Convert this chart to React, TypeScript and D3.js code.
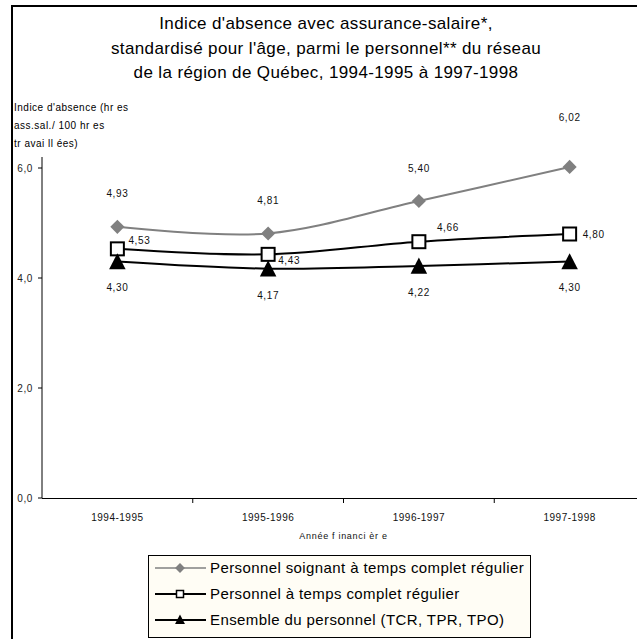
import React from "react";
import * as d3 from "d3";

const categories = ["1994-1995", "1995-1996", "1996-1997", "1997-1998"];
const soignantTCR = [4.93, 4.81, 5.4, 6.02];
const personnelTCR = [4.53, 4.43, 4.66, 4.8];
const ensemble = [4.3, 4.17, 4.22, 4.3];
const yTicks = [0, 2, 4, 6];
const seriesNames = [
  "Personnel soignant à temps complet régulier",
  "Personnel à temps complet régulier",
  "Ensemble du personnel (TCR, TPR, TPO)",
];
const titleLines = [
  "Indice d'absence avec assurance-salaire*,",
  "standardisé pour l'âge, parmi le personnel** du réseau",
  "de la région de Québec, 1994-1995 à 1997-1998",
];
const yTitleLines = ["Indice d'absence (hr es", "ass.sal./ 100 hr es", "tr avai ll ées)"];
const xTitle = "Année f inanci èr e";

const W = 637;
const H = 639;
const FONT = "'Liberation Sans', Arial, sans-serif";

export default function App() {
  const plotLeft = 42;
  const plotRight = 645;
  const y = d3.scaleLinear().domain([0, 6.2]).range([498, 157]);
  const xBand = d3.scaleBand().domain(categories).range([plotLeft, plotRight]);
  const xc = (c: string) => (xBand(c) as number) + xBand.bandwidth() / 2;
  const line = d3
    .line<[number, number]>()
    .x((d) => d[0])
    .y((d) => d[1])
    .curve(d3.curveCatmullRom.alpha(0));
  const pts = (vals: number[]) => vals.map((v, i) => [xc(categories[i]), y(v)] as [number, number]);
  const fmt = (v: number) => v.toFixed(2).replace(".", ",");
  const fmtTick = (v: number) => v.toFixed(1).replace(".", ",");

  const diamond = d3.symbol().type(d3.symbolSquare).size(100)();
  const tri = (s: number) => `M0,${-s * 0.62}L${s * 0.55},${s * 0.45}L${-s * 0.55},${s * 0.45}Z`;

  const lblStyle = { fontFamily: FONT, fontSize: 10, fill: "#111", letterSpacing: 0.6 } as const;

  const soigLabelDy = [-33, -33, -33, -49];
  const tcrLabelOff: [number, number][] = [
    [22, -8],
    [21, 6],
    [29, -14],
    [24, 0],
  ];
  const ensLabelDy = [25.5, 26.5, 27, 25.5];

  const legendRows = [
    { name: seriesNames[0], kind: "diamond" },
    { name: seriesNames[1], kind: "square" },
    { name: seriesNames[2], kind: "triangle" },
  ];

  return (
    <svg
      width={W}
      height={H}
      style={{ position: "absolute", left: 0, top: 0, background: "#fff" }}
    >
      <rect x={0} y={0} width={W} height={H} fill="#fff" />
      {/* frame */}
      <line x1={12} y1={6} x2={W} y2={6} stroke="#000" strokeWidth={2} />
      <line x1={12} y1={5} x2={12} y2={H} stroke="#000" strokeWidth={2} />

      {/* title */}
      {titleLines.map((t, i) => (
        <text
          key={i}
          x={326}
          y={29 + i * 24.5}
          textAnchor="middle"
          style={{ fontFamily: FONT, fontSize: 17, fill: "#000", letterSpacing: 0.38 }}
        >
          {t}
        </text>
      ))}

      {/* y axis title */}
      {yTitleLines.map((t, i) => (
        <text key={i} x={14} y={107 + i * 18} dy="0.35em" style={{ fontFamily: FONT, fontSize: 10, fill: "#000", letterSpacing: 0.5 }}>
          {t}
        </text>
      ))}

      {/* y axis */}
      <line x1={plotLeft} y1={157} x2={plotLeft} y2={498} stroke="#000" strokeWidth={1} />
      {yTicks.map((t) => (
        <g key={t}>
          <line x1={plotLeft - 4} x2={plotLeft} y1={y(t)} y2={y(t)} stroke="#000" />
          <text
            x={plotLeft - 9}
            y={y(t)}
            dy="0.35em"
            textAnchor="end"
            style={{ fontFamily: FONT, fontSize: 10, fill: "#222", letterSpacing: 0.6 }}
          >
            {fmtTick(t)}
          </text>
        </g>
      ))}

      {/* x axis */}
      <line x1={plotLeft} y1={498.5} x2={plotRight} y2={498.5} stroke="#000" strokeWidth={1} />
      {categories.map((c, i) =>
        i > 0 ? (
          <line
            key={c}
            x1={xBand(c) as number}
            x2={xBand(c) as number}
            y1={498}
            y2={503}
            stroke="#000"
          />
        ) : null
      )}
      {categories.map((c) => (
        <text
          key={c}
          x={xc(c)}
          y={517}
          dy="0.35em"
          textAnchor="middle"
          style={{ fontFamily: FONT, fontSize: 10, fill: "#111", letterSpacing: 0.5 }}
        >
          {c}
        </text>
      ))}
      <text
        x={(plotLeft + plotRight) / 2}
        y={536}
        dy="0.35em"
        textAnchor="middle"
        style={{ fontFamily: FONT, fontSize: 9, fill: "#111", letterSpacing: 0.7 }}
      >
        {xTitle}
      </text>

      {/* lines */}
      <path d={line(pts(soignantTCR)) || ""} fill="none" stroke="#808080" strokeWidth={2} />
      <path d={line(pts(personnelTCR)) || ""} fill="none" stroke="#000" strokeWidth={2} />
      <path d={line(pts(ensemble)) || ""} fill="none" stroke="#000" strokeWidth={2} />

      {/* markers */}
      {pts(soignantTCR).map(([px, py], i) => (
        <path key={"d" + i} d={diamond || ""} transform={`translate(${px},${py}) rotate(45)`} fill="#808080" />
      ))}
      {pts(personnelTCR).map(([px, py], i) => (
        <rect
          key={"s" + i}
          x={px - 6.5}
          y={py - 6.5}
          width={13}
          height={13}
          fill="#fff"
          stroke="#000"
          strokeWidth={2}
        />
      ))}
      {pts(ensemble).map(([px, py], i) => (
        <path key={"t" + i} d={tri(15)} transform={`translate(${px},${py + 1})`} fill="#000" />
      ))}

      {/* data labels */}
      {soignantTCR.map((v, i) => (
        <text key={"ld" + i} x={xc(categories[i])} y={y(v) + soigLabelDy[i]} textAnchor="middle" dy="0.35em" style={lblStyle}>
          {fmt(v)}
        </text>
      ))}
      {personnelTCR.map((v, i) => (
        <text
          key={"ls" + i}
          x={xc(categories[i]) + tcrLabelOff[i][0]}
          y={y(v) + tcrLabelOff[i][1]}
          textAnchor="middle"
          dy="0.35em"
          style={lblStyle}
        >
          {fmt(v)}
        </text>
      ))}
      {ensemble.map((v, i) => (
        <text key={"le" + i} x={xc(categories[i])} y={y(v) + ensLabelDy[i]} textAnchor="middle" dy="0.35em" style={lblStyle}>
          {fmt(v)}
        </text>
      ))}

      {/* legend */}
      <rect x={148.5} y={555.5} width={382} height={82} fill="#FFFDF5" stroke="#000" strokeWidth={1} />
      {legendRows.map((r, i) => {
        const ly = 568 + i * 26;
        const col = r.kind === "diamond" ? "#808080" : "#000";
        return (
          <g key={r.name}>
            <line x1={155} x2={206} y1={ly} y2={ly} stroke={col} strokeWidth={r.kind === "diamond" ? 1.5 : 2} />
            {r.kind === "diamond" && (
              <rect x={176.5} y={ly - 3.5} width={7} height={7} fill="#808080" transform={`rotate(45 180 ${ly})`} />
            )}
            {r.kind === "square" && (
              <rect x={176.5} y={ly - 3.5} width={7} height={7} fill="#fff" stroke="#000" strokeWidth={1.5} />
            )}
            {r.kind === "triangle" && <path d={tri(9)} transform={`translate(180,${ly})`} fill="#000" />}
            <text x={210} y={ly} dy="0.35em" style={{ fontFamily: FONT, fontSize: 15, fill: "#000", letterSpacing: 0.4 }}>
              {r.name}
            </text>
          </g>
        );
      })}
    </svg>
  );
}
